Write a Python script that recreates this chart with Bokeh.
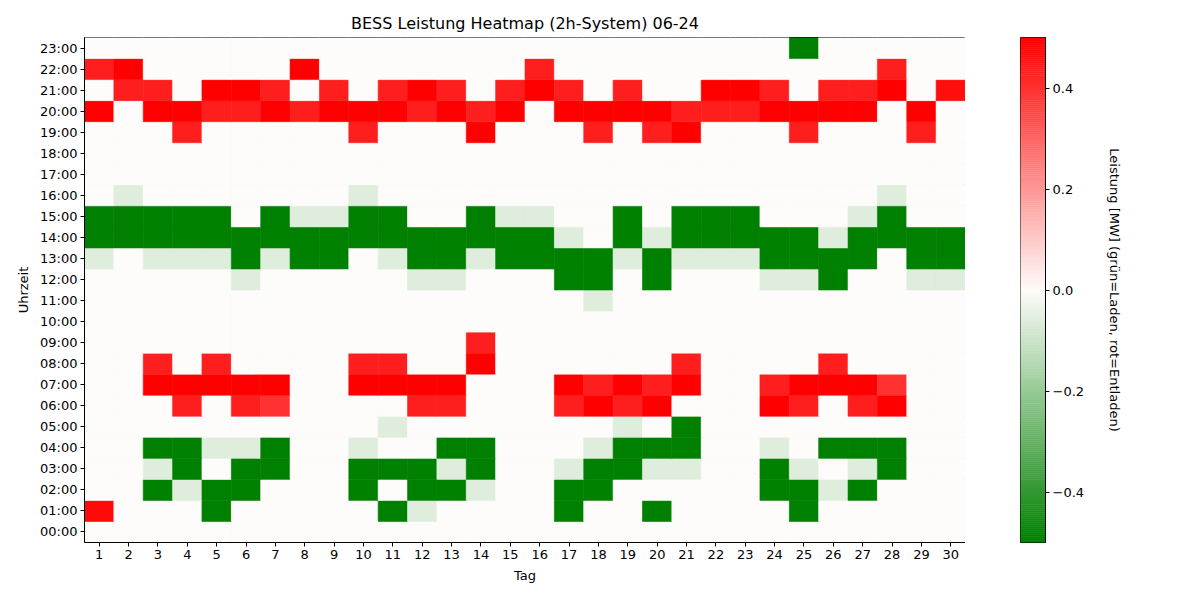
import numpy as np
from bokeh.plotting import figure
from bokeh.layouts import row
from bokeh.models import ColumnDataSource, LinearColorMapper, FixedTicker, Range1d
from bokeh.embed import file_html
from bokeh.resources import INLINE

# Tage und Stunden
days = list(range(1, 31))
hours = list(range(24))

# Leistung [MW] je Stunde, Tag 1..30 (rot=Entladen, grün=Laden)
h00 = [0, 0, 0, 0, 0, 0, 0, 0, 0, 0, 0, 0, 0, 0, 0, 0, 0, 0, 0, 0, 0, 0, 0, 0, 0, 0, 0, 0, 0, 0]
h01 = [0.48, 0, 0, 0, -0.5, 0, 0, 0, 0, 0, -0.5, -0.06, 0, 0, 0, 0, -0.5, 0, 0, -0.5, 0, 0, 0, 0, -0.5, 0, 0, 0, 0, 0]
h02 = [0, 0, -0.5, -0.06, -0.5, -0.5, 0, 0, 0, -0.5, 0, -0.5, -0.5, -0.06, 0, 0, -0.5, -0.5, 0, 0, 0, 0, 0, -0.5, -0.5, -0.06, -0.5, 0, 0, 0]
h03 = [0, 0, -0.06, -0.5, 0, -0.5, -0.5, 0, 0, -0.5, -0.5, -0.5, -0.06, -0.5, 0, 0, -0.06, -0.5, -0.5, -0.06, -0.06, 0, 0, -0.5, -0.06, 0, -0.06, -0.5, 0, 0]
h04 = [0, 0, -0.5, -0.5, -0.06, -0.06, -0.5, 0, 0, -0.06, 0, 0, -0.5, -0.5, 0, 0, 0, -0.06, -0.5, -0.5, -0.5, 0, 0, -0.06, 0, -0.5, -0.5, -0.5, 0, 0]
h05 = [0, 0, 0, 0, 0, 0, 0, 0, 0, 0, -0.06, 0, 0, 0, 0, 0, 0, 0, -0.06, 0, -0.5, 0, 0, 0, 0, 0, 0, 0, 0, 0]
h06 = [0, 0, 0, 0.44, 0, 0.44, 0.4, 0, 0, 0, 0, 0.44, 0.44, 0, 0, 0, 0.44, 0.5, 0.44, 0.5, 0, 0, 0, 0.5, 0.44, 0, 0.44, 0.5, 0, 0]
h07 = [0, 0, 0.5, 0.5, 0.5, 0.5, 0.5, 0, 0, 0.5, 0.5, 0.5, 0.5, 0, 0, 0, 0.5, 0.44, 0.5, 0.44, 0.5, 0, 0, 0.44, 0.5, 0.5, 0.5, 0.4, 0, 0]
h08 = [0, 0, 0.44, 0, 0.44, 0, 0, 0, 0, 0.44, 0.44, 0, 0, 0.5, 0, 0, 0, 0, 0, 0, 0.44, 0, 0, 0, 0, 0.44, 0, 0, 0, 0]
h09 = [0, 0, 0, 0, 0, 0, 0, 0, 0, 0, 0, 0, 0, 0.44, 0, 0, 0, 0, 0, 0, 0, 0, 0, 0, 0, 0, 0, 0, 0, 0]
h10 = [0, 0, 0, 0, 0, 0, 0, 0, 0, 0, 0, 0, 0, 0, 0, 0, 0, 0, 0, 0, 0, 0, 0, 0, 0, 0, 0, 0, 0, 0]
h11 = [0, 0, 0, 0, 0, 0, 0, 0, 0, 0, 0, 0, 0, 0, 0, 0, 0, -0.06, 0, 0, 0, 0, 0, 0, 0, 0, 0, 0, 0, 0]
h12 = [0, 0, 0, 0, 0, -0.06, 0, 0, 0, 0, 0, -0.06, -0.06, 0, 0, 0, -0.5, -0.5, 0, -0.5, 0, 0, 0, -0.06, -0.06, -0.5, 0, 0, -0.06, -0.06]
h13 = [-0.06, 0, -0.06, -0.06, -0.06, -0.5, -0.06, -0.5, -0.5, 0, -0.06, -0.5, -0.5, -0.06, -0.5, -0.5, -0.5, -0.5, -0.06, -0.5, -0.06, -0.06, -0.06, -0.5, -0.5, -0.5, -0.5, 0, -0.5, -0.5]
h14 = [-0.5, -0.5, -0.5, -0.5, -0.5, -0.5, -0.5, -0.5, -0.5, -0.5, -0.5, -0.5, -0.5, -0.5, -0.5, -0.5, -0.06, 0, -0.5, -0.06, -0.5, -0.5, -0.5, -0.5, -0.5, -0.06, -0.5, -0.5, -0.5, -0.5]
h15 = [-0.5, -0.5, -0.5, -0.5, -0.5, 0, -0.5, -0.06, -0.06, -0.5, -0.5, 0, 0, -0.5, -0.06, -0.06, 0, 0, -0.5, 0, -0.5, -0.5, -0.5, 0, 0, 0, -0.06, -0.5, 0, 0]
h16 = [0, -0.06, 0, 0, 0, 0, 0, 0, 0, -0.06, 0, 0, 0, 0, 0, 0, 0, 0, 0, 0, 0, 0, 0, 0, 0, 0, 0, -0.06, 0, 0]
h17 = [0, 0, 0, 0, 0, 0, 0, 0, 0, 0, 0, 0, 0, 0, 0, 0, 0, 0, 0, 0, 0, 0, 0, 0, 0, 0, 0, 0, 0, 0]
h18 = [0, 0, 0, 0, 0, 0, 0, 0, 0, 0, 0, 0, 0, 0, 0, 0, 0, 0, 0, 0, 0, 0, 0, 0, 0, 0, 0, 0, 0, 0]
h19 = [0, 0, 0, 0.44, 0, 0, 0, 0, 0, 0.44, 0, 0, 0, 0.5, 0, 0, 0, 0.44, 0, 0.44, 0.5, 0, 0, 0, 0.44, 0, 0, 0, 0.44, 0]
h20 = [0.5, 0, 0.5, 0.5, 0.44, 0.44, 0.5, 0.44, 0.5, 0.5, 0.5, 0.44, 0.5, 0.44, 0.5, 0, 0.5, 0.5, 0.5, 0.5, 0.44, 0.44, 0.44, 0.5, 0.5, 0.5, 0.5, 0, 0.5, 0]
h21 = [0, 0.44, 0.44, 0, 0.5, 0.5, 0.44, 0, 0.44, 0, 0.44, 0.5, 0.44, 0, 0.44, 0.5, 0.44, 0, 0.44, 0, 0, 0.5, 0.5, 0.44, 0, 0.44, 0.44, 0.5, 0, 0.47]
h22 = [0.44, 0.5, 0, 0, 0, 0, 0, 0.5, 0, 0, 0, 0, 0, 0, 0, 0.44, 0, 0, 0, 0, 0, 0, 0, 0, 0, 0, 0, 0.44, 0, 0]
h23 = [0, 0, 0, 0, 0, 0, 0, 0, 0, 0, 0, 0, 0, 0, 0, 0, 0, 0, 0, 0, 0, 0, 0, 0, -0.5, 0, 0, 0, 0, 0]

stunden = [h00, h01, h02, h03, h04, h05, h06, h07, h08, h09, h10, h11,
           h12, h13, h14, h15, h16, h17, h18, h19, h20, h21, h22, h23]

vmin, vmax = -0.5, 0.5
FONT = "DejaVu Sans"

# Farbskala gruen -> weiss -> rot
def make_palette(n=255):
    g = np.array([0, 128, 0])
    w = np.array([253, 252, 250])
    r = np.array([255, 0, 0])
    pal = []
    for i in range(n):
        t = i / (n - 1)
        if t <= 0.5:
            c = g + (w - g) * (t * 2)
        else:
            c = w + (r - w) * ((t - 0.5) * 2)
        c = np.round(c).astype(int)
        pal.append("#%02x%02x%02x" % tuple(c))
    return pal

mapper = LinearColorMapper(palette=make_palette(), low=vmin, high=vmax)

xs, ys, vals = [], [], []
for h, werte in zip(hours, stunden):
    for d, v in zip(days, werte):
        xs.append(d)
        ys.append(h)
        vals.append(v)
src = ColumnDataSource(dict(day=xs, hour=ys, val=vals))

# Heatmap
p = figure(frame_width=881, frame_height=505,
           x_range=Range1d(0.5, 30.5), y_range=Range1d(-0.5, 23.5),
           title="BESS Leistung Heatmap (2h-System) 06-24",
           toolbar_location=None, output_backend="svg",
           min_border_left=84, min_border_right=0,
           min_border_top=37, min_border_bottom=58)
p.rect(x="day", y="hour", width=1, height=1, source=src,
       fill_color={"field": "val", "transform": mapper},
       line_color={"field": "val", "transform": mapper}, line_width=0.6)

p.title.align = "center"
p.title.text_font = FONT
p.title.text_font_size = "16px"
p.title.text_font_style = "normal"
p.title.text_color = "black"
p.title.standoff = 9

p.grid.visible = False
p.outline_line_color = "black"
p.outline_line_width = 1
p.outline_line_alpha = 1

p.xaxis.ticker = FixedTicker(ticks=days)
p.yaxis.ticker = FixedTicker(ticks=hours)
p.yaxis.major_label_overrides = {h: "%02d:00" % h for h in hours}
p.xaxis.axis_label = "Tag"
p.yaxis.axis_label = "Uhrzeit"
for ax in [p.xaxis[0], p.yaxis[0]]:
    ax.axis_line_color = "black"
    ax.major_tick_line_color = "black"
    ax.major_tick_in = 0
    ax.major_tick_out = 4
    ax.minor_tick_line_color = None
    ax.major_label_text_font = FONT
    ax.major_label_text_font_size = "13px"
    ax.major_label_text_color = "black"
    ax.major_label_standoff = 3
    ax.axis_label_text_font = FONT
    ax.axis_label_text_font_size = "13px"
    ax.axis_label_text_font_style = "normal"
    ax.axis_label_text_color = "black"
    ax.axis_label_standoff = 6

# Farbbalken
stufen = np.linspace(vmin, vmax, 256)
cb_src = ColumnDataSource(dict(bottom=stufen[:-1], top=stufen[1:],
                               mid=(stufen[:-1] + stufen[1:]) / 2))
cb = figure(frame_width=25, frame_height=505,
            x_range=Range1d(0, 1), y_range=Range1d(vmin, vmax),
            y_axis_location="right",
            toolbar_location=None, output_backend="svg",
            min_border_left=55, min_border_right=10,
            min_border_top=37, min_border_bottom=58)
cb.quad(left=0, right=1, bottom="bottom", top="top", source=cb_src,
        fill_color={"field": "mid", "transform": mapper},
        line_color={"field": "mid", "transform": mapper}, line_width=0.6)
cb.grid.visible = False
cb.xaxis.visible = False
cb.outline_line_color = "black"
cb.outline_line_width = 1
cb.outline_line_alpha = 1
cb_ticks = [-0.4, -0.2, 0.0, 0.2, 0.4]
ya = cb.yaxis[0]
ya.ticker = FixedTicker(ticks=cb_ticks)
ya.major_label_overrides = {t: ("%.1f" % t).replace("-", "\u2212") for t in cb_ticks}
ya.axis_line_color = "black"
ya.major_tick_line_color = "black"
ya.major_tick_in = 0
ya.major_tick_out = 4
ya.minor_tick_line_color = None
ya.major_label_text_font = FONT
ya.major_label_text_font_size = "13px"
ya.major_label_text_color = "black"
ya.major_label_standoff = 3
ya.axis_label = "Leistung [MW] (grün=Laden, rot=Entladen)"
ya.axis_label_text_font = FONT
ya.axis_label_text_font_size = "13px"
ya.axis_label_text_font_style = "normal"
ya.axis_label_text_color = "black"
ya.axis_label_standoff = 20

layout = row(p, cb)
open("out.html", "w").write(file_html(layout, INLINE))
